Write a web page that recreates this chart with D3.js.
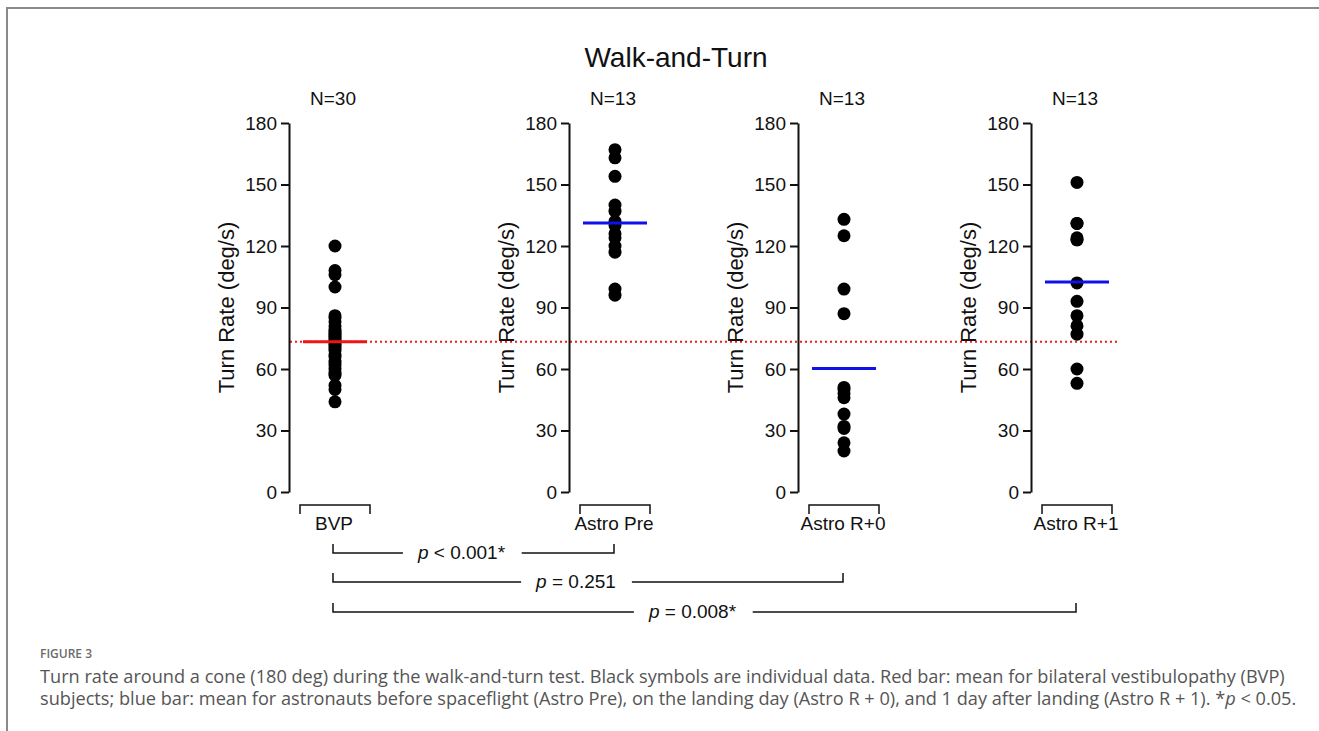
<!DOCTYPE html>
<html lang="en">
<head>
  <meta charset="UTF-8">
  <title>Walk-and-Turn</title>
  <style>
    body { margin: 0; background: #fff; }
    svg text { font-family: "Liberation Sans", Arial, Helvetica, sans-serif; fill: #111; }
    .caption text { font-family: "Open Sans", "Noto Sans", sans-serif; }
  </style>
</head>
<body>
  <svg width="1319" height="731"></svg>
  <script src="https://d3js.org/d3.v7.min.js"></script>
  <script>
    // data
    var groups = ["BVP", "Astro Pre", "Astro R+0", "Astro R+1"];
    var counts = [30, 13, 13, 13];
    var bvp = [120, 108, 106, 100, 86, 85, 83, 81, 79, 78, 77, 76, 75, 74, 73, 72, 71,
               70, 69, 67, 66, 64, 63, 62, 60, 58, 57, 52, 50, 44];
    var astroPre = [167, 163, 154, 140, 137, 132, 130, 126, 124, 120, 117, 99, 96];
    var astroR0 = [133, 125, 99, 87, 51, 50, 48, 46, 38, 32, 31, 24, 20];
    var astroR1 = [151, 131, 131, 123, 123, 102, 93, 86, 81, 77, 60, 53, 124];
    var means = [73.3, 131.2, 60.3, 102.4];
    var yTicks = [0, 30, 60, 90, 120, 150, 180];
    var compareTo = ["Astro Pre", "Astro R+0", "Astro R+1"];
    var pLabels = ["< 0.001*", "= 0.251", "= 0.008*"];

    var values = [bvp, astroPre, astroR0, astroR1];

    var svg = d3.select("svg");

    // frame (left + top rule)
    svg.append("path")
      .attr("d", "M7,731V8H1319")
      .attr("fill", "none")
      .attr("stroke", "#8a8a8a")
      .attr("stroke-width", 2);

    var y = d3.scaleLinear().domain([0, 180]).range([492, 123]);
    var xDot = d3.scaleOrdinal().domain(groups).range([335, 615, 844, 1077]);
    var axisGap = 46;

    svg.append("text")
      .attr("x", 676).attr("y", 67)
      .attr("text-anchor", "middle")
      .style("font-size", "28px")
      .text("Walk-and-Turn");

    // red dotted reference at BVP mean
    svg.append("line")
      .attr("x1", 290).attr("x2", 1118)
      .attr("y1", y(means[0])).attr("y2", y(means[0]))
      .attr("stroke", "#f21b1b")
      .attr("stroke-width", 2)
      .attr("stroke-dasharray", "2,3");

    groups.forEach(function(gName, i) {
      var cx = xDot(gName);
      var g = svg.append("g").attr("class", "panel");

      var ax = g.append("g")
        .attr("transform", "translate(" + (cx - axisGap) + ",0)")
        .call(d3.axisLeft(y).tickValues(yTicks).tickSize(8).tickSizeOuter(0).tickPadding(4));
      ax.select(".domain").attr("stroke", "#111").attr("stroke-width", 2);
      ax.selectAll(".tick line").attr("stroke", "#111").attr("stroke-width", 2);
      ax.selectAll(".tick text")
        .attr("fill", "#111")
        .style("font-size", "19px")
        .style("font-family", "'Liberation Sans', Arial, sans-serif");

      g.append("text")
        .attr("transform", "translate(" + (cx - 101) + "," + y(90) + ") rotate(-90)")
        .attr("text-anchor", "middle")
        .style("font-size", "22px")
        .text("Turn Rate (deg/s)");

      g.append("text")
        .attr("x", cx - 2).attr("y", 105)
        .attr("text-anchor", "middle")
        .style("font-size", "19px")
        .text("N=" + counts[i]);

      g.selectAll("circle")
        .data(values[i])
        .enter().append("circle")
        .attr("cx", cx)
        .attr("cy", function(d) { return y(d); })
        .attr("r", 6.5)
        .attr("fill", "#000");

      g.append("line")
        .attr("x1", cx - 32).attr("x2", cx + 32)
        .attr("y1", y(means[i])).attr("y2", y(means[i]))
        .attr("stroke", i === 0 ? "#f01414" : "#1010e8")
        .attr("stroke-width", 3);

      // category bracket
      g.append("path")
        .attr("d", "M" + (cx - 35) + ",514V505H" + (cx + 35) + "V514")
        .attr("fill", "none")
        .attr("stroke", "#111")
        .attr("stroke-width", 1.5);

      g.append("text")
        .attr("x", cx - 1).attr("y", 530)
        .attr("text-anchor", "middle")
        .style("font-size", "19px")
        .text(gName);
    });

    // significance brackets
    var bracketY = [553, 582, 612];
    compareTo.forEach(function(name, i) {
      var x0 = xDot(groups[0]) - 2, x1 = xDot(name) - 1, yy = bracketY[i];
      var g = svg.append("g").attr("class", "pbracket");
      var t = g.append("text")
        .attr("x", (x0 + x1) / 2 - 12).attr("y", yy + 6)
        .attr("text-anchor", "middle")
        .style("font-size", "19px");
      t.append("tspan").style("font-style", "italic").text("p");
      t.append("tspan").text(" " + pLabels[i]);
      var bb = t.node().getBBox();
      g.append("path")
        .attr("d", "M" + x0 + "," + (yy - 9) + "V" + yy + "H" + (bb.x - 14))
        .attr("fill", "none").attr("stroke", "#111").attr("stroke-width", 1.5);
      g.append("path")
        .attr("d", "M" + (bb.x + bb.width + 16) + "," + yy + "H" + x1 + "V" + (yy - 9))
        .attr("fill", "none").attr("stroke", "#111").attr("stroke-width", 1.5);
    });

    // caption
    var cap = svg.append("g").attr("class", "caption");
    cap.append("text")
      .attr("x", 40).attr("y", 658)
      .style("font-size", "12px").style("font-weight", 600)
      .style("fill", "#6b6b6b")
      .text("FIGURE 3");
    var l1 = cap.append("text")
      .attr("x", 40).attr("y", 683)
      .style("fill", "#555").style("font-size", "15px")
      .text("Turn rate around a cone (180 deg) during the walk-and-turn test. Black symbols are individual data. Red bar: mean for bilateral vestibulopathy (BVP)");
    var l2 = cap.append("text")
      .attr("x", 40).attr("y", 705)
      .style("fill", "#555").style("font-size", "15px");
    l2.append("tspan").text("subjects; blue bar: mean for astronauts before spaceflight (Astro Pre), on the landing day (Astro R + 0), and 1 day after landing (Astro R + 1). *");
    l2.append("tspan").style("font-style", "italic").text("p");
    l2.append("tspan").text(" < 0.05.");
    // fit caption size to the figure width
    var w1 = l1.node().getComputedTextLength();
    var fs = 15 * (1246 / w1);
    l1.style("font-size", fs + "px");
    l2.style("font-size", fs + "px");
  </script>
</body>
</html>
